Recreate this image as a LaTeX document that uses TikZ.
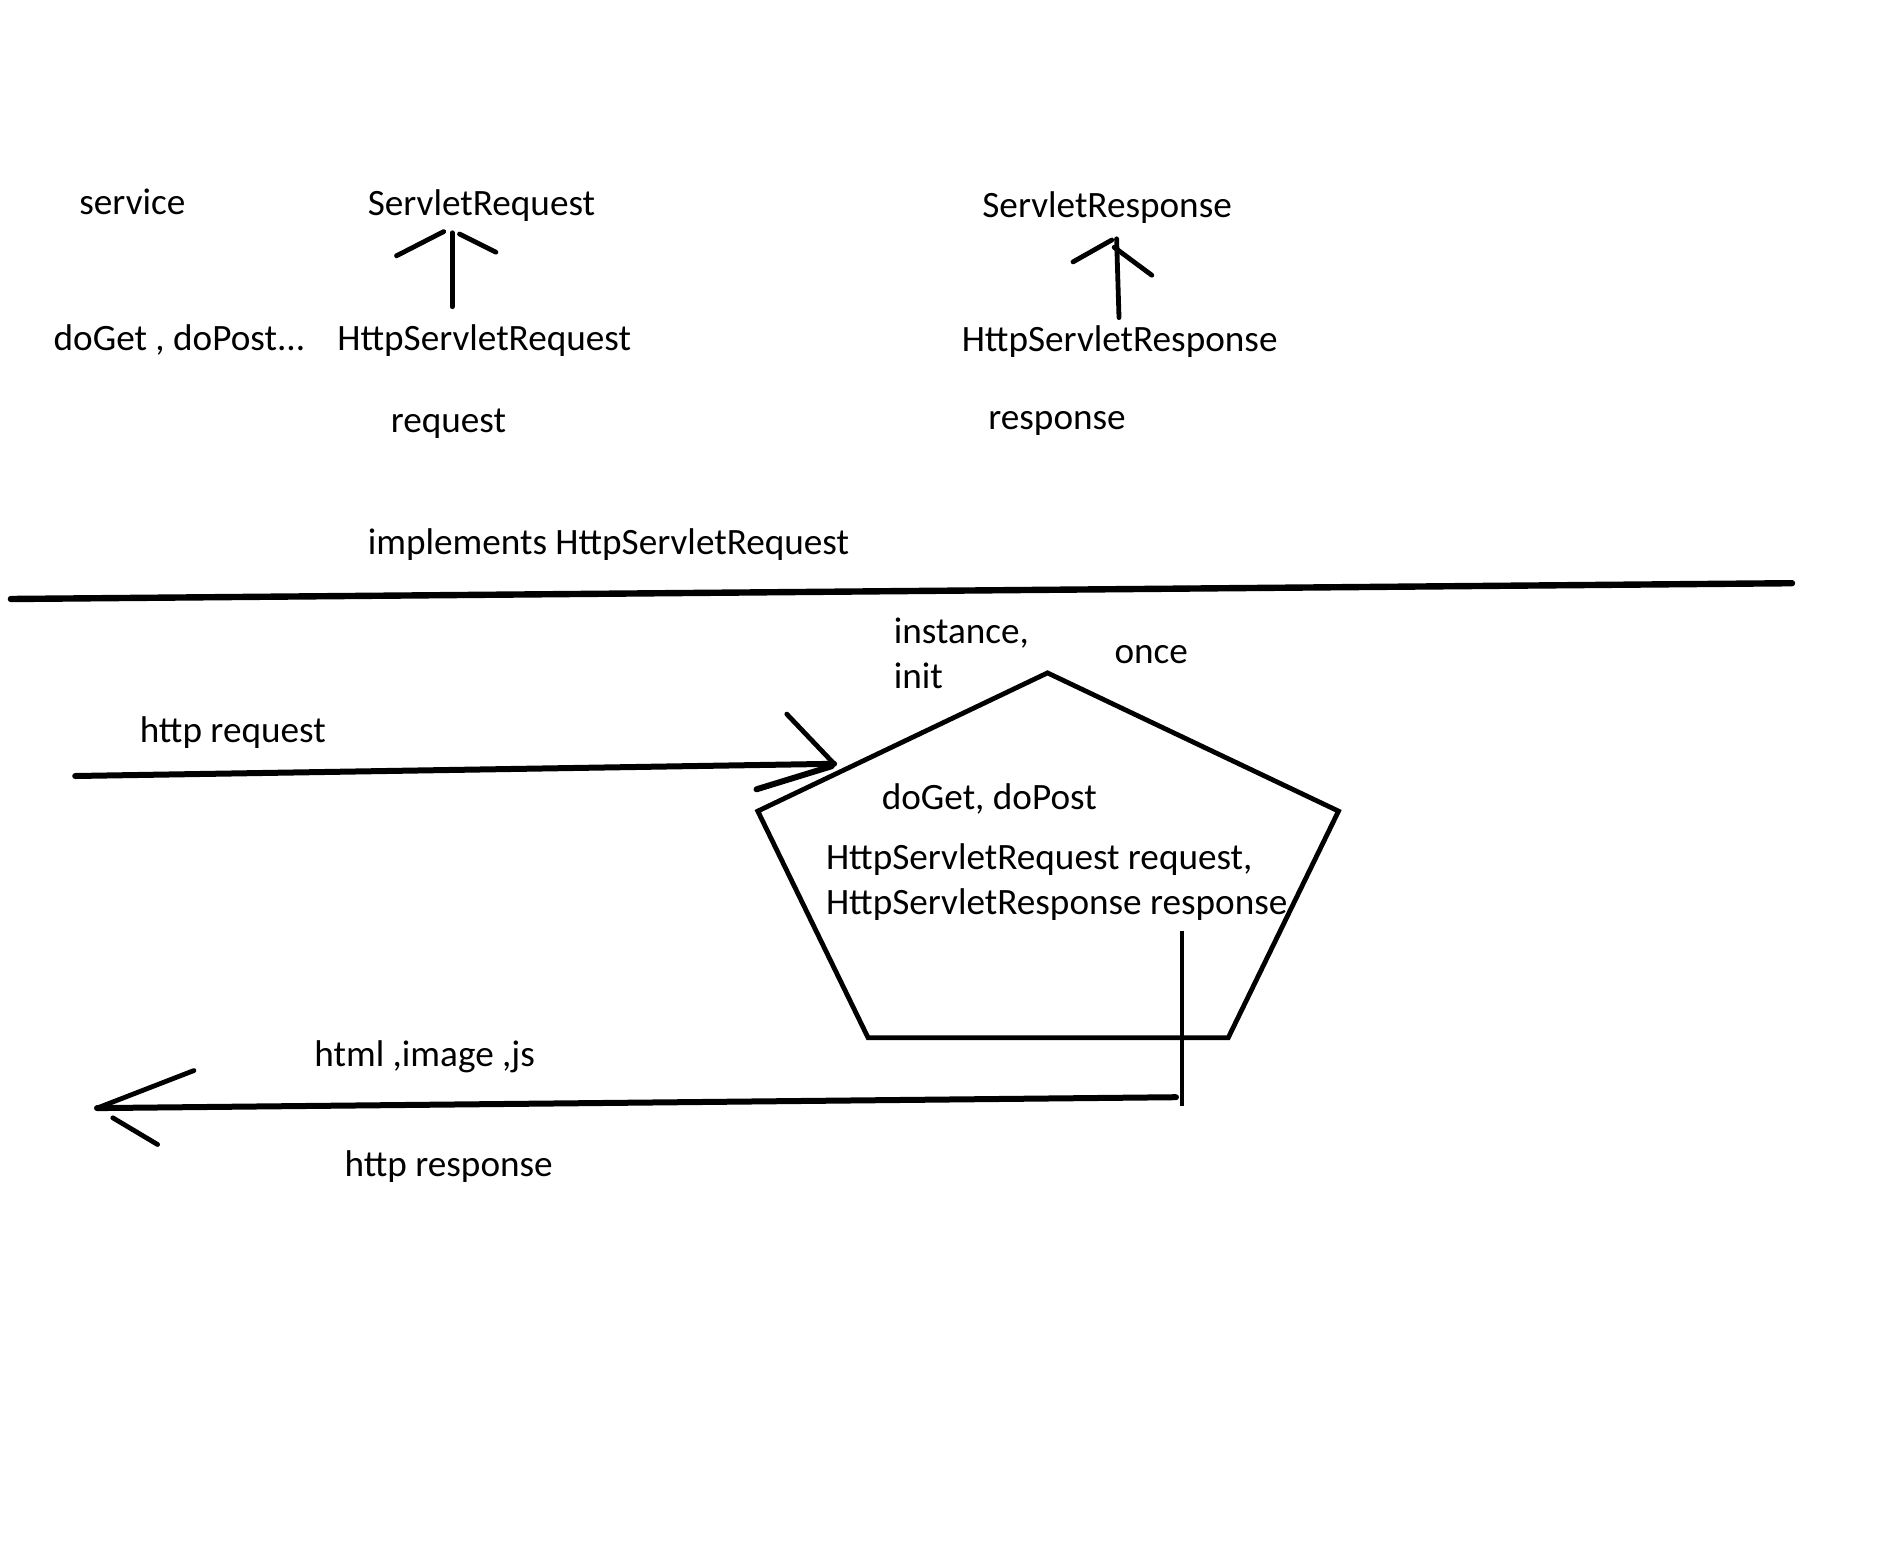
\documentclass[tikz,border=0pt]{standalone}
\usepackage{fontspec}
\setmainfont{Carlito}
\begin{document}
\begin{tikzpicture}[x=0.5pt,y=-0.5pt,
  lbl/.style={anchor=base west,inner sep=0pt,font=\fontsize{18.6}{22}\selectfont},
  pen/.style={line width=3pt,line cap=round,line join=round},
  thinpen/.style={line width=2.4pt,line cap=round,line join=round},
  vpen/.style={line width=1.8pt}]
\useasboundingbox[fill=white] (0,0) rectangle (1901,1563);

% labels of the type hierarchy
\node[lbl] (service) at (79,214.6) {service};
\node[lbl] (sreq) at (367.4,215.8) {ServletRequest};
\node[lbl] (doget) at (53.3,350.2) {doGet , doPost...};
\node[lbl] (hreq) at (337,350.2) {HttpServletRequest};
\node[lbl] (reqvar) at (390.4,432.8) {request};
\node[lbl] (sresp) at (982,217) {ServletResponse};
\node[lbl] (hresp) at (961.4,351.6) {HttpServletResponse};
\node[lbl] (respvar) at (988,429.2) {response};
\node[lbl] (impl) at (367.4,554.1) {implements HttpServletRequest};

% labels of the servlet lifecycle
\node[lbl] (inst) at (893.5,643.8) {instance,};
\node[lbl] (init) at (893.5,688.6) {init};
\node[lbl] (once) at (1114.2,663.2) {once};
\node[lbl] (httpreq) at (139.4,742) {http request};
\node[lbl] (dopost) at (881.4,809.9) {doGet, doPost};
\node[lbl] (param1) at (825.6,869.2) {HttpServletRequest request,};
\node[lbl] (param2) at (825.6,914.2) {HttpServletResponse response};
\node[lbl] (content) at (314,1066.9) {html ,image ,js};
\node[lbl] (httpresp) at (344.3,1176) {http response};

% inheritance arrow: HttpServletRequest -> ServletRequest
\coordinate (a1s) at (452.2,306.7);
\coordinate (a1t) at (452.2,232.8);
\draw[thinpen] (a1s) -- (a1t);
\draw[thinpen] (396.5,255.8) -- (443.7,231.6);
\draw[thinpen] (459.5,234) -- (495.9,252.2);

% inheritance arrow: HttpServletResponse -> ServletResponse
\coordinate (a2s) at (1119,317.6);
\coordinate (a2t) at (1116.6,238.8);
\draw[thinpen] (a2s) -- (a2t);
\draw[thinpen] (1073,261.9) -- (1111.8,240);
\draw[thinpen] (1114.2,247.3) -- (1151.8,275.2);

% separator
\coordinate (sepL) at (10.9,599);
\coordinate (sepR) at (1792,583.2);
\draw[pen,line width=3.2pt] (sepL) -- (sepR);

% servlet pentagon
\coordinate (pTop) at (1047.5,672.9);
\coordinate (pR) at (1338.5,811.1);
\coordinate (pBR) at (1228.2,1037.8);
\coordinate (pBL) at (868.1,1037.8);
\coordinate (pL) at (757.8,811.1);
\draw[thinpen,line cap=butt,line join=miter] (pTop) -- (pR) -- (pBR) -- (pBL) -- (pL) -- cycle;

% incoming http request
\coordinate (rqS) at (75.2,776);
\coordinate (rqT) at (834.1,763.8);
\draw[pen] (rqS) -- (rqT);
\draw[thinpen] (786.8,714.1) -- (rqT);
\draw[pen] (756.5,789.3) -- (831.7,766.2);

% outgoing http response
\coordinate (outTop) at (1182.1,931.1);
\coordinate (outBot) at (1182.1,1105.7);
\draw[vpen] (outTop) -- (outBot);
\coordinate (rsS) at (1176,1097.2);
\coordinate (rsT) at (97,1108.1);
\draw[pen] (rsS) -- (rsT);
\draw[thinpen] (194,1070.5) -- (rsT);
\draw[thinpen] (112.8,1117.8) -- (157.6,1144.5);
\end{tikzpicture}
\end{document}
